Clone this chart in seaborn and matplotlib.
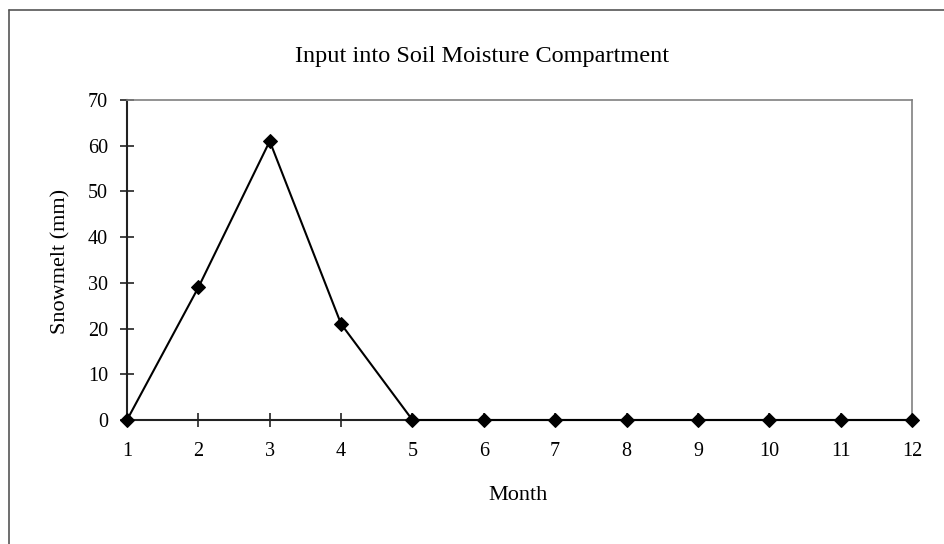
import matplotlib
matplotlib.use("Agg")
import matplotlib.pyplot as plt
import seaborn as sns
import pandas as pd
from matplotlib.lines import Line2D

months = [1, 2, 3, 4, 5, 6, 7, 8, 9, 10, 11, 12]
snowmelt = [0, 29, 61, 21, 0, 0, 0, 0, 0, 0, 0, 0]
y_ticks = [0, 10, 20, 30, 40, 50, 60, 70]

sns.set_theme(style="white")
plt.rcParams['font.family'] = ['Liberation Serif', 'DejaVu Serif']

df = pd.DataFrame({"Month": months, "Snowmelt": snowmelt})

W, H = 945, 544
fig = plt.figure(figsize=(W / 100, H / 100), dpi=100)
ax = fig.add_axes([127 / W, 1 - 420 / H, (912 - 127) / W, 320 / H])

sns.lineplot(data=df, x="Month", y="Snowmelt", ax=ax, color="black", lw=1.5,
             marker="D", markersize=7, markeredgecolor="black", markerfacecolor="black",
             clip_on=False, zorder=5)

ax.set_xlim(1, 12)
ax.set_ylim(0, 70)
ax.set_xticks(months)
ax.set_yticks(y_ticks)
ax.tick_params(axis="both", which="major", bottom=True, left=True, labelsize=14.5,
               direction="inout", length=10, width=1.2, color="#222222",
               labelcolor="black")
ax.tick_params(axis="x", pad=11)
ax.tick_params(axis="y", pad=8.5)
for s in ["left", "bottom"]:
    ax.spines[s].set_color("#222222")
    ax.spines[s].set_linewidth(1.5)
for s in ["top", "right"]:
    ax.spines[s].set_color("#808080")
    ax.spines[s].set_linewidth(1.2)
ax.grid(False)

ax.set_xlabel("Month", fontsize=16, va="baseline", ha="center", color="black")
ax.xaxis.set_label_coords((518.5 - 127) / 785, (420 - 500) / 320)
ax.set_ylabel("Snowmelt (mm)", fontsize=16, va="center", ha="center", color="black")
ax.yaxis.set_label_coords((61 - 127) / 785, (420 - 261.5) / 320)

fig.text(482.5 / W, 1 - 62 / H, "Input into Soil Moisture Compartment", fontsize=17.5,
         ha="center", va="baseline", color="black")

# outer chart border (top and left visible; right/bottom cropped in reference)
fig.add_artist(Line2D([9.5 / W, 1.0], [1 - 9.5 / H, 1 - 9.5 / H],
                      transform=fig.transFigure, color="#555555", lw=1.2))
fig.add_artist(Line2D([9.5 / W, 9.5 / W], [0.0, 1 - 9.5 / H],
                      transform=fig.transFigure, color="#555555", lw=1.2))

fig.savefig("out.png", dpi=100)
